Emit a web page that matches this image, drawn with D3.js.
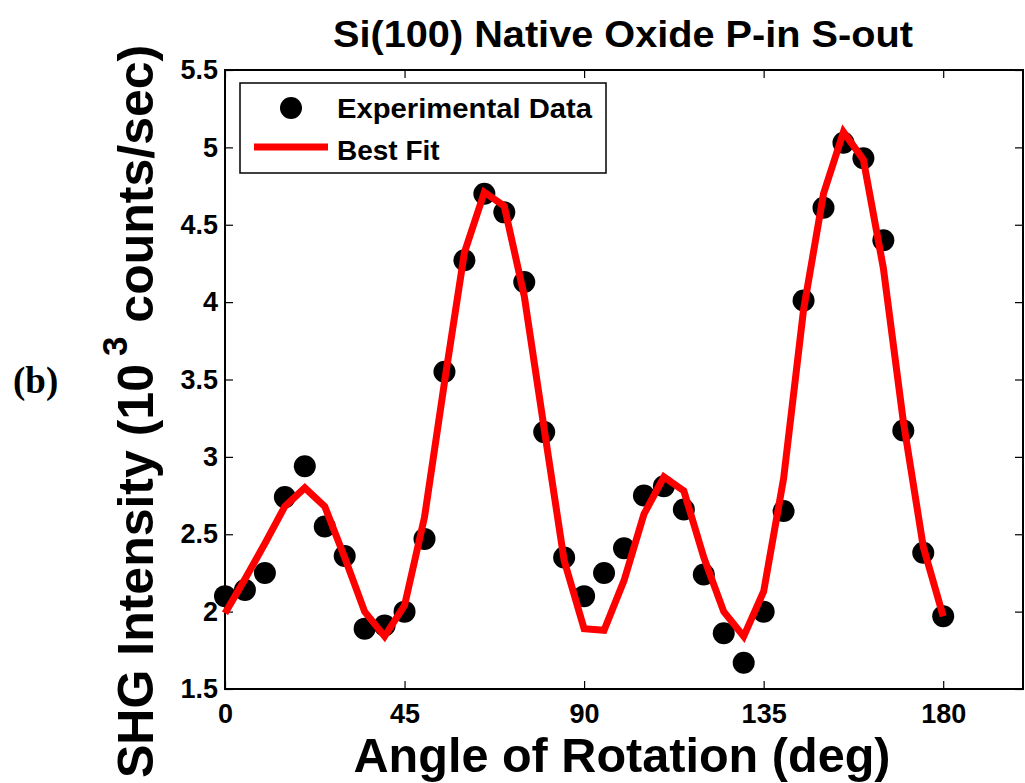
<!DOCTYPE html>
<html>
<head>
<meta charset="utf-8">
<script src="https://cdn.jsdelivr.net/npm/d3@7"></script>
<style>
  html, body { margin: 0; padding: 0; background: #fff; }
  svg { display: block; }
  text { font-family: "Liberation Sans", Arial, Helvetica, sans-serif; font-weight: bold; fill: #000; }
</style>
</head>
<body>
<svg id="chart" width="1025" height="783"></svg>
<script>
// Rotation angle (deg) of each measurement
const angles = [0, 5, 10, 15, 20, 25, 30, 35, 40, 45, 50, 55, 60, 65, 70, 75, 80, 85, 90,
                95, 100, 105, 110, 115, 120, 125, 130, 135, 140, 145, 150, 155, 160, 165, 170, 175, 180];

// Measured SHG intensity (10^3 counts/sec)
const experimental = [2.10, 2.14, 2.25, 2.74, 2.94, 2.55, 2.36, 1.89, 1.91, 2.00, 2.47, 3.55, 4.27,
                      4.70, 4.58, 4.13, 3.16, 2.35, 2.10, 2.25, 2.41, 2.75, 2.81, 2.66, 2.24, 1.86,
                      1.67, 2.00, 2.65, 4.01, 4.61, 5.03, 4.93, 4.40, 3.17, 2.38, 1.97];

// Model fit evaluated at the same angles
const bestFit = [1.99, 2.21, 2.44, 2.68, 2.80, 2.68, 2.35, 2.00, 1.84, 2.04, 2.61, 3.48, 4.32,
                 4.71, 4.62, 4.04, 3.18, 2.33, 1.89, 1.88, 2.20, 2.63, 2.87, 2.78, 2.35, 2.00,
                 1.84, 2.13, 2.86, 3.95, 4.70, 5.10, 4.92, 4.22, 3.23, 2.42, 1.97];

const xTicks = [0, 45, 90, 135, 180];
const yTicks = [1.5, 2, 2.5, 3, 3.5, 4, 4.5, 5, 5.5];
const yTickLabels = ["1.5", "2", "2.5", "3", "3.5", "4", "4.5", "5", "5.5"];

const svg = d3.select("#chart");

const plot = { left: 225, right: 1023, top: 70, bottom: 689 };

const x = d3.scaleLinear().domain([0, 200]).range([plot.left, plot.right]);
const y = d3.scaleLinear().domain([1.5, 5.5]).range([plot.bottom, plot.top]);

const tickFont = 27;

// Axes with inward ticks on all four sides
const gBottom = svg.append("g").attr("transform", `translate(0,${plot.bottom})`)
  .call(d3.axisBottom(x).tickValues(xTicks).tickSizeInner(-8).tickSizeOuter(0).tickPadding(15)
    .tickFormat(d3.format("d")));
const gTop = svg.append("g").attr("transform", `translate(0,${plot.top})`)
  .call(d3.axisTop(x).tickValues(xTicks).tickSizeInner(-8).tickSizeOuter(0).tickFormat(""));
const gLeft = svg.append("g").attr("transform", `translate(${plot.left},0)`)
  .call(d3.axisLeft(y).tickValues(yTicks).tickSizeInner(-8).tickSizeOuter(0).tickPadding(7)
    .tickFormat((d, i) => yTickLabels[i]));
const gRight = svg.append("g").attr("transform", `translate(${plot.right},0)`)
  .call(d3.axisRight(y).tickValues(yTicks).tickSizeInner(-8).tickSizeOuter(0).tickFormat(""));

[gBottom, gTop, gLeft, gRight].forEach(g => {
  g.select(".domain").remove();
  g.selectAll(".tick line").attr("stroke", "#000").attr("stroke-width", 1.2);
  g.selectAll(".tick text")
    .style("font-family", '"Liberation Sans", Arial, sans-serif')
    .style("font-weight", "bold")
    .style("font-size", tickFont + "px")
    .attr("fill", "#000");
});

// Plot frame
svg.append("rect")
  .attr("x", plot.left).attr("y", plot.top)
  .attr("width", plot.right - plot.left).attr("height", plot.bottom - plot.top)
  .attr("fill", "none").attr("stroke", "#000").attr("stroke-width", 2);

const data = angles.map((a, i) => ({ a, exp: experimental[i], fit: bestFit[i] }));

// Experimental points
svg.append("g").selectAll("circle").data(data).join("circle")
  .attr("cx", d => x(d.a))
  .attr("cy", d => y(d.exp))
  .attr("r", 11)
  .attr("fill", "#000");

// Fit curve drawn over the points
const line = d3.line().x(d => x(d.a)).y(d => y(d.fit));
svg.append("path")
  .datum(data)
  .attr("d", line)
  .attr("fill", "none")
  .attr("stroke", "#ff0000")
  .attr("stroke-width", 7)
  .attr("stroke-linejoin", "miter");

// Legend
const legend = svg.append("g");
legend.append("rect")
  .attr("x", 240).attr("y", 83).attr("width", 366).attr("height", 90)
  .attr("fill", "#fff").attr("stroke", "#000").attr("stroke-width", 1.5);
legend.append("circle").attr("cx", 291).attr("cy", 108).attr("r", 11).attr("fill", "#000");
legend.append("line").attr("x1", 254).attr("x2", 328).attr("y1", 147).attr("y2", 147)
  .attr("stroke", "#ff0000").attr("stroke-width", 7);
legend.append("text").attr("x", 337).attr("y", 118).style("font-size", "28px")
  .attr("textLength", 255).attr("lengthAdjust", "spacingAndGlyphs")
  .text("Experimental Data");
legend.append("text").attr("x", 337).attr("y", 160).style("font-size", "28px")
  .text("Best Fit");

// Title
svg.append("text")
  .attr("x", 623).attr("y", 47)
  .attr("text-anchor", "middle")
  .style("font-size", "37px")
  .attr("textLength", 580).attr("lengthAdjust", "spacingAndGlyphs")
  .text("Si(100) Native Oxide P-in S-out");

// X axis title
svg.append("text")
  .attr("x", 622).attr("y", 772)
  .attr("text-anchor", "middle")
  .style("font-size", "48px")
  .attr("textLength", 537).attr("lengthAdjust", "spacingAndGlyphs")
  .text("Angle of Rotation (deg)");

// Y axis title with superscript exponent
const yTitle = svg.append("text")
  .attr("transform", "translate(153,778) rotate(-90)")
  .attr("x", 0).attr("y", 0)
  .style("font-size", "50px");
yTitle.append("tspan").text("SHG Intensity (10");
yTitle.append("tspan").attr("dx", 8).attr("dy", -26).style("font-size", "35px").text("3");
yTitle.append("tspan").attr("dy", 26).text(" counts/sec)");

// Panel label
svg.append("text")
  .attr("x", 13).attr("y", 393)
  .style("font-family", '"Liberation Serif", "Times New Roman", serif')
  .style("font-size", "37px")
  .text("(b)");
</script>
</body>
</html>
